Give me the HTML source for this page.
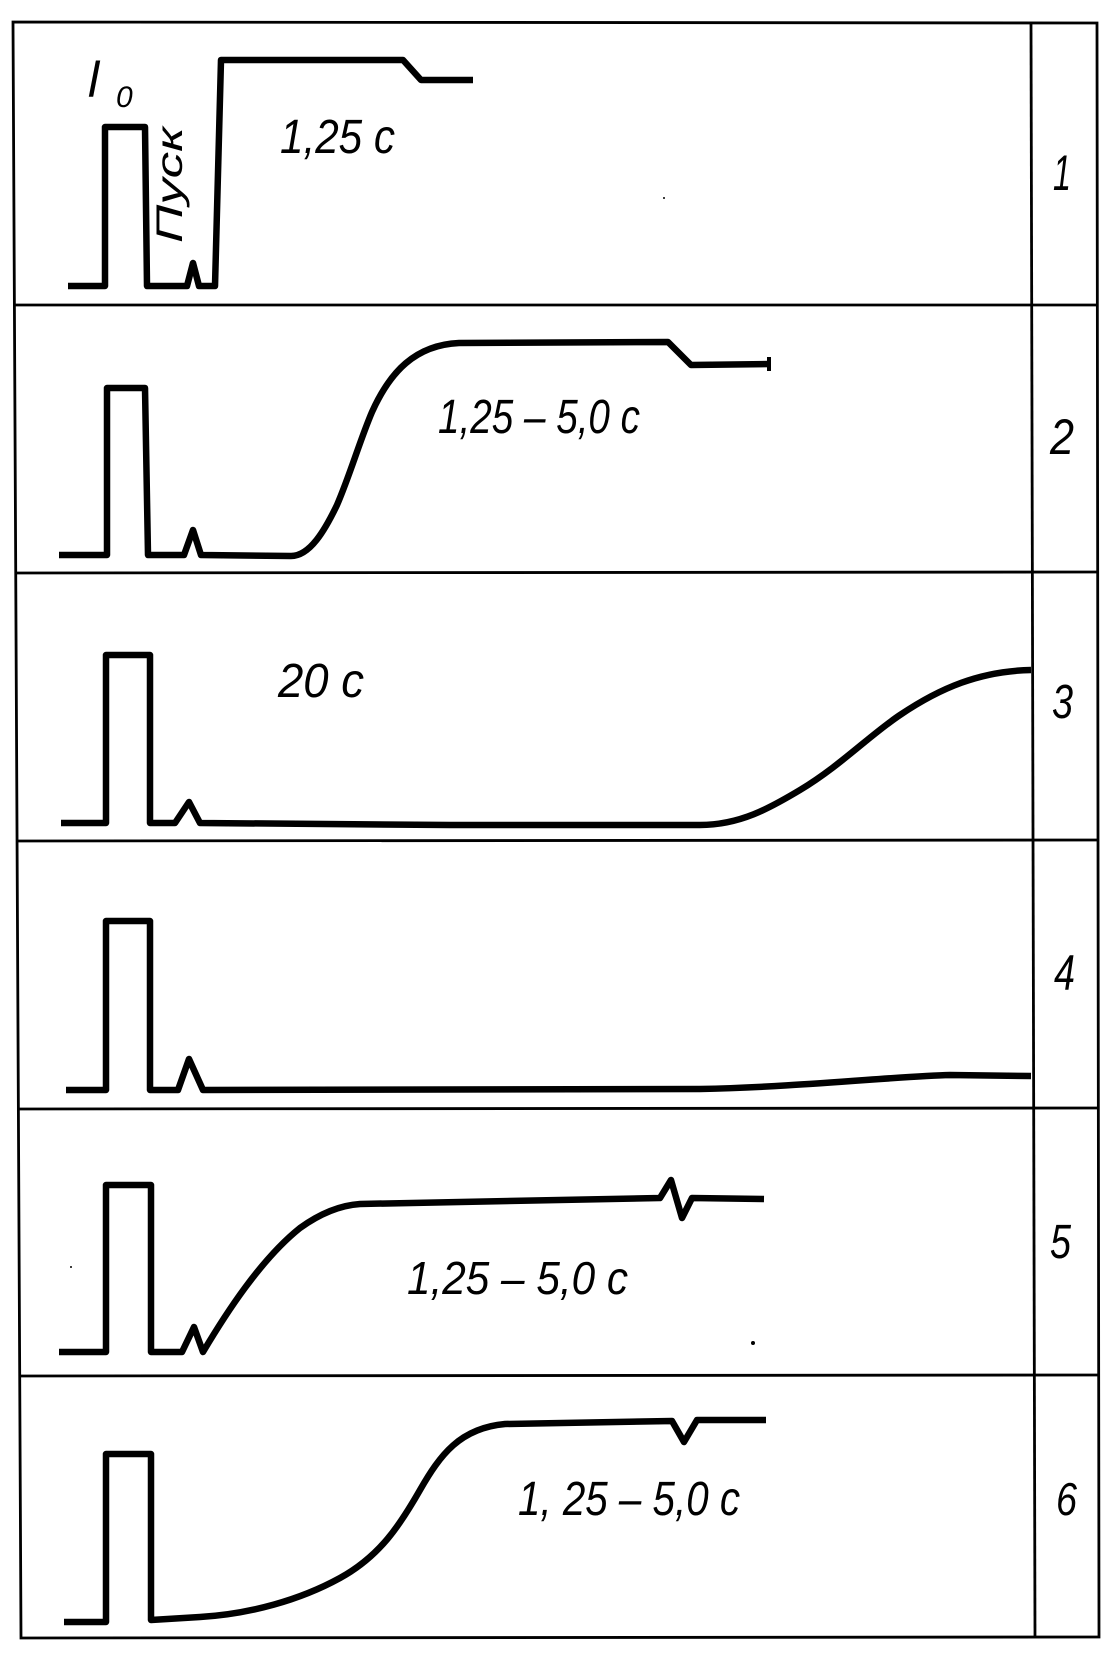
<!DOCTYPE html>
<html>
<head>
<meta charset="utf-8">
<style>
  html, body { margin: 0; padding: 0; background: #fff; }
  svg { display: block; }
  .t { font-family: "Liberation Sans Narrow", "Liberation Sans", sans-serif; font-style: italic; fill: #000; }
</style>
</head>
<body>
<svg width="1119" height="1655" viewBox="0 0 1119 1655" xmlns="http://www.w3.org/2000/svg">
  <rect x="0" y="0" width="1119" height="1655" fill="#fff"/>

  <!-- Frame -->
  <g fill="none" stroke="#000" stroke-width="2.8">
    <polygon points="13,22 1097,23 1099,1637 21,1638"/>
    <line x1="1031" y1="23" x2="1035" y2="1637"/>
    <line x1="14.4" y1="305" x2="1097.4" y2="305"/>
    <line x1="15.7" y1="573" x2="1097.8" y2="572"/>
    <line x1="17.0" y1="841" x2="1098.1" y2="840"/>
    <line x1="18.4" y1="1109" x2="1098.4" y2="1108"/>
    <line x1="19.7" y1="1376" x2="1098.7" y2="1375"/>
  </g>

  <!-- Traces -->
  <g fill="none" stroke="#000" stroke-width="6.5" stroke-linejoin="round" stroke-linecap="butt">
    <!-- Row 1 -->
    <path d="M68,286 L105,286 L105,127 L145,127 L147,286 L187,286 L193,263 L199,286 L215,286 L221,60 L403,60 L421,80 L473,80"/>
    <!-- Row 2 -->
    <path d="M59,555 L107,555 L107,388 L145,388 L148,555 L184,555 L193,530 L201,555 L291,556 C310,556 325,530 337,505 C350,475 360,440 372,412 C390,372 415,345 459,343 L668,342 L691,365 L770,364"/>
    <!-- Row 3 -->
    <path d="M61,823 L106,823 L106,655 L150,655 L150,823 L175,823 L189,802 L200,823 L450,825 L700,825 C740,825 770,808 800,790 C840,766 870,735 900,715 C940,688 980,671 1031,670"/>
    <!-- Row 4 -->
    <path d="M66,1090 L106,1090 L106,921 L150,921 L150,1090 L178,1090 L189,1059 L203,1090 L700,1089 C800,1087 900,1076 950,1075 L1031,1076"/>
    <!-- Row 5 -->
    <path d="M59,1352 L106,1352 L106,1185 L151,1185 L151,1352 L182,1352 L194,1327 L203,1352 C225,1315 260,1260 300,1228 C325,1210 345,1205 360,1204 L660,1198 L671,1180 L682,1218 L692,1198 L764,1199"/>
    <!-- Row 6 -->
    <path d="M64,1622 L106,1622 L106,1454 L151,1454 L151,1620 L200,1617 C250,1614 300,1600 340,1578 C380,1556 400,1525 420,1490 C440,1455 460,1428 505,1424 L672,1421 L684,1442 L697,1420 L766,1420"/>
  </g>
  <!-- end tick row 2 -->
  <rect x="767" y="357" width="4" height="14" fill="#000"/>

  <!-- Small dots -->
  <circle cx="664" cy="198" r="1" fill="#000"/>
  <circle cx="753" cy="1343" r="2" fill="#000"/>
  <circle cx="71" cy="1267" r="1" fill="#000"/>

  <!-- Labels in chart -->
  <text class="t" x="88" y="97" font-size="50">l</text>
  <text class="t" x="116" y="107" font-size="30">0</text>
  <text class="t" transform="translate(182,243) rotate(-90)" x="0" y="0" font-size="37" textLength="116" lengthAdjust="spacingAndGlyphs">Пуск</text>

  <text class="t" x="280" y="153" font-size="48" textLength="115" lengthAdjust="spacingAndGlyphs">1,25 с</text>
  <text class="t" x="438" y="433" font-size="48" textLength="202" lengthAdjust="spacingAndGlyphs">1,25 – 5,0 с</text>
  <text class="t" x="278" y="697" font-size="48" textLength="86" lengthAdjust="spacingAndGlyphs">20 с</text>
  <text class="t" x="407" y="1294" font-size="46" textLength="221" lengthAdjust="spacingAndGlyphs">1,25 – 5,0 с</text>
  <text class="t" x="518" y="1515" font-size="48" textLength="222" lengthAdjust="spacingAndGlyphs">1, 25 – 5,0 с</text>

  <!-- Row numbers -->
  <text class="t" x="1053" y="190" font-size="50" textLength="18" lengthAdjust="spacingAndGlyphs">1</text>
  <text class="t" x="1050" y="454" font-size="50" textLength="24" lengthAdjust="spacingAndGlyphs">2</text>
  <text class="t" x="1052" y="718" font-size="48" textLength="21" lengthAdjust="spacingAndGlyphs">3</text>
  <text class="t" x="1054" y="990" font-size="50" textLength="21" lengthAdjust="spacingAndGlyphs">4</text>
  <text class="t" x="1050" y="1258" font-size="48" textLength="21" lengthAdjust="spacingAndGlyphs">5</text>
  <text class="t" x="1056" y="1515" font-size="46" textLength="21" lengthAdjust="spacingAndGlyphs">6</text>
</svg>
</body>
</html>
